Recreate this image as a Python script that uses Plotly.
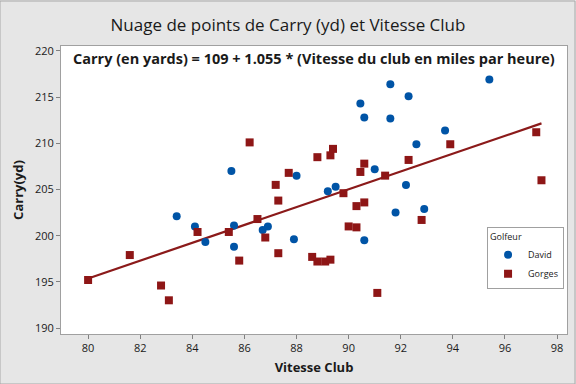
import numpy as np
import plotly.graph_objects as go

david_x = [83.4, 84.1, 84.5, 85.5, 85.6, 85.6, 86.7, 86.9, 87.9, 88.0, 89.2, 89.5,
           90.45, 90.6, 90.6, 91.0, 91.6, 91.6, 91.8, 92.2, 92.3, 92.6, 92.9, 93.7, 95.4]
david_y = [202.1, 201.0, 199.3, 207.0, 201.1, 198.8, 200.6, 201.0, 199.6, 206.5, 204.8, 205.3,
           214.3, 212.8, 199.5, 207.2, 216.4, 212.7, 202.5, 205.5, 215.1, 209.9, 202.9, 211.4, 216.9]

gorges_x = [80.0, 81.6, 82.8, 83.1, 84.2, 85.4, 85.8, 86.2, 86.5, 86.8, 87.2, 87.3, 87.3,
            87.7, 88.6, 88.8, 88.8, 89.1, 89.3, 89.3, 89.4, 89.8, 90.0, 90.3, 90.3, 90.45,
            90.6, 90.6, 91.1, 91.4, 92.3, 92.8, 93.9, 97.2, 97.4]
gorges_y = [195.2, 197.9, 194.6, 193.0, 200.4, 200.4, 197.3, 210.1, 201.8, 199.8, 205.5, 203.8, 198.1,
            206.8, 197.7, 197.2, 208.5, 197.2, 197.4, 208.7, 209.4, 204.6, 201.0, 203.2, 200.9, 206.9,
            207.8, 203.6, 193.8, 206.5, 208.2, 201.7, 209.9, 211.2, 206.0]

x_ticks = [80, 82, 84, 86, 88, 90, 92, 94, 96, 98]
y_ticks = [190, 195, 200, 205, 210, 215, 220]

all_x = np.array(david_x + gorges_x)
all_y = np.array(david_y + gorges_y)
slope, intercept = np.polyfit(all_x, all_y, 1)
line_x = np.array([all_x.min(), all_x.max()])
line_y = intercept + slope * line_x

fig = go.Figure()
fig.add_trace(go.Scatter(x=line_x, y=line_y, mode="lines",
                         line=dict(color="#8B1A1A", width=2.2), showlegend=False, hoverinfo="skip"))
fig.add_trace(go.Scatter(x=david_x, y=david_y, mode="markers", name="David",
                         marker=dict(symbol="circle", size=8, color="#0054A6")))
fig.add_trace(go.Scatter(x=gorges_x, y=gorges_y, mode="markers", name="Gorges",
                         marker=dict(symbol="square", size=8, color="#8E1616")))

font_family = "Open Sans, Noto Sans, DejaVu Sans, sans-serif"

fig.update_layout(
    width=576, height=384,
    margin=dict(l=61, r=9, t=46, b=50, autoexpand=False),
    paper_bgcolor="#E6E6E6",
    plot_bgcolor="white",
    font=dict(family=font_family, color="#1A1A1A"),
    title=dict(text="Nuage de points de Carry (yd) et Vitesse Club", x=0.5, xanchor="center",
               y=0.935, yanchor="middle", font=dict(size=17, color="#1A1A1A")),
    legend=dict(title=dict(text="Golfeur", font=dict(size=9)), font=dict(size=9),
                x=0.842, xanchor="left", y=0.37, yanchor="top",
                bordercolor="#A0A0A0", borderwidth=1, bgcolor="white",
                itemsizing="trace", tracegroupgap=0, itemwidth=30),
    annotations=[dict(text="<b>Carry (en yards) = 109 + 1.055 * (Vitesse du club en miles par heure)</b>",
                      xref="paper", yref="paper", x=0.5, y=0.995, yanchor="top", showarrow=False,
                      font=dict(size=14.5, color="#1A1A1A"))],
    shapes=[dict(type="rect", xref="paper", yref="paper",
                 x0=-61/506, x1=1 + 8/506, y0=-50/288, y1=1 + 45/288,
                 line=dict(color="#A8A8A8", width=1), layer="below")],
)
fig.update_xaxes(range=[78.96, 98.38], tickvals=x_ticks, ticks="outside", ticklen=4,
                 tickcolor="#808080", showgrid=False, zeroline=False,
                 showline=True, linecolor="#A0A0A0", linewidth=1, mirror=True,
                 tickfont=dict(size=11), title=dict(text="<b>Vitesse Club</b>", font=dict(size=13), standoff=8))
fig.update_yaxes(range=[189.35, 220.54], tickvals=y_ticks, ticks="outside", ticklen=4,
                 tickcolor="#808080", showgrid=False, zeroline=False,
                 showline=True, linecolor="#A0A0A0", linewidth=1, mirror=True,
                 tickfont=dict(size=11), title=dict(text="<b>Carry(yd)</b>", font=dict(size=13), standoff=8))

fig.write_html("out.html", config={"displayModeBar": False},
               post_script="document.body.style.margin='0px';")
